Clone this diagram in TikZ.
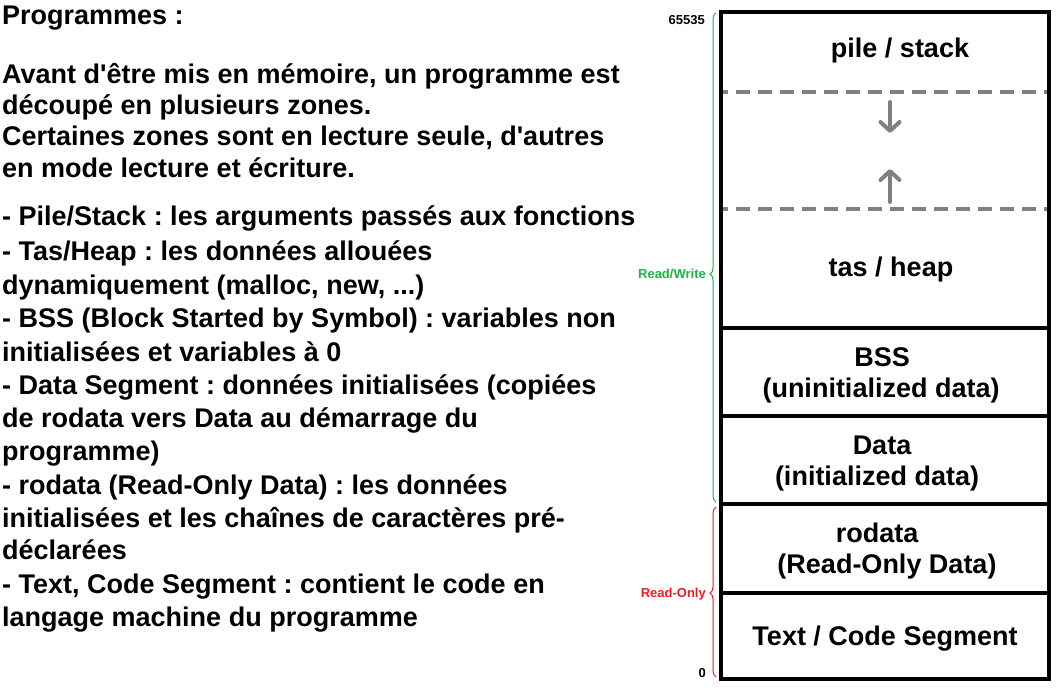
\documentclass[tikz,border=0pt]{standalone}
\usepackage{fontspec}
\setmainfont{Liberation Sans}
\usetikzlibrary{decorations.pathreplacing,arrows.meta}
\definecolor{rwgreen}{RGB}{34,177,76}
\definecolor{rored}{RGB}{237,28,36}
\newcommand\sq{\XeTeXglyph\the\XeTeXcharglyph"27\relax}
\begin{document}
\frenchspacing
\begin{tikzpicture}[x=1pt,y=-1pt,
  txt/.style={anchor=base west, inner sep=0pt, font=\fontsize{27}{31}\selectfont\bfseries},
  lbl/.style={anchor=base, inner sep=0pt, font=\fontsize{27}{31}\selectfont\bfseries},
  small/.style={anchor=base east, inner sep=0pt, font=\fontsize{13}{15}\selectfont\bfseries},
  wall/.style={line width=4pt},
  gapline/.style={line width=4pt, gray, dash pattern=on 14pt off 8pt, dash phase=9.3pt},
  growarrow/.style={line width=4pt, gray, line cap=round, -{Straight Barb[length=9pt,width=19pt,round]}},
  bracket/.style={line width=1pt, decorate},
]
\useasboundingbox (0,0) rectangle (1056,689);

% left text
\node[txt] (t0) at (2,24) {Programmes :};
\node[txt] (t1) at (2,83) {Avant d\sq être mis en mémoire, un programme est};
\node[txt] (t2) at (2,114) {découpé en plusieurs zones.};
\node[txt] (t3) at (2,145) {Certaines zones sont en lecture seule, d\sq autres};
\node[txt] (t4) at (2,177) {en mode lecture et écriture.};
\node[txt] (l1) at (2,225) {- Pile/Stack : les arguments passés aux fonctions};
\node[txt] (l2) at (2,260) {- Tas/Heap : les données allouées};
\node[txt] (l3) at (2,294) {dynamiquement (malloc, new, ...)};
\node[txt] (l4) at (2,327) {- BSS (Block Started by Symbol) : variables non};
\node[txt] (l5) at (2,361) {initialisées et variables à 0};
\node[txt] (l6) at (2,394) {- Data Segment : données initialisées (copiées};
\node[txt] (l7) at (2,427) {de rodata vers Data au démarrage du};
\node[txt] (l8) at (2,460) {programme)};
\node[txt] (l9) at (2,494) {- rodata (Read-Only Data) : les données};
\node[txt] (l10) at (2,527) {initialisées et les chaînes de caractères pré-};
\node[txt] (l11) at (2,559) {déclarées};
\node[txt] (l12) at (2,593) {- Text, Code Segment : contient le code en};
\node[txt] (l13) at (2,626) {langage machine du programme};

% memory box
\coordinate (tl) at (721,12);
\coordinate (br) at (1049,679);
\draw[wall] (tl) rectangle (br);
\draw[wall] (721,328) -- (1049,328);
\draw[wall] (721,416) -- (1049,416);
\draw[wall] (721,504) -- (1049,504);
\draw[wall] (721,593) -- (1049,593);
\draw[gapline] (723,92) -- (1047,92);
\draw[gapline] (723,209) -- (1047,209);

\coordinate (d1) at (890,102);
\coordinate (d2) at (890,133);
\coordinate (u1) at (890,202);
\coordinate (u2) at (890,169);
\draw[growarrow] (d1) -- (d2);
\draw[growarrow] (u1) -- (u2);

\node[lbl] (stack) at (900,57) {pile / stack};
\node[lbl] (heap) at (891,276) {tas / heap};
\node[lbl] (bss) at (882,366) {BSS};
\node[lbl] (bss2) at (881,397) {(uninitialized data)};
\node[lbl] (data) at (882,454) {Data};
\node[lbl] (data2) at (877,485) {(initialized data)};
\node[lbl] (ro) at (877,542) {rodata};
\node[lbl] (ro2) at (887,573) {(Read-Only Data)};
\node[lbl] (text) at (885,645) {Text / Code Segment};

% braces and address labels
\draw[bracket, rwgreen, decoration={brace, amplitude=6pt, aspect=0.466}] (716,502) -- (716,13);
\draw[bracket, rored, decoration={brace, amplitude=6pt, aspect=0.494}] (716,677) -- (716,507);
\node[small] (top) at (705,24) {65535};
\node[small] (zero) at (706,677) {0};
\node[small, rwgreen] (rw) at (706,278) {Read/Write};
\node[small, rored] (rol) at (706,597) {Read-Only};
\end{tikzpicture}
\end{document}
